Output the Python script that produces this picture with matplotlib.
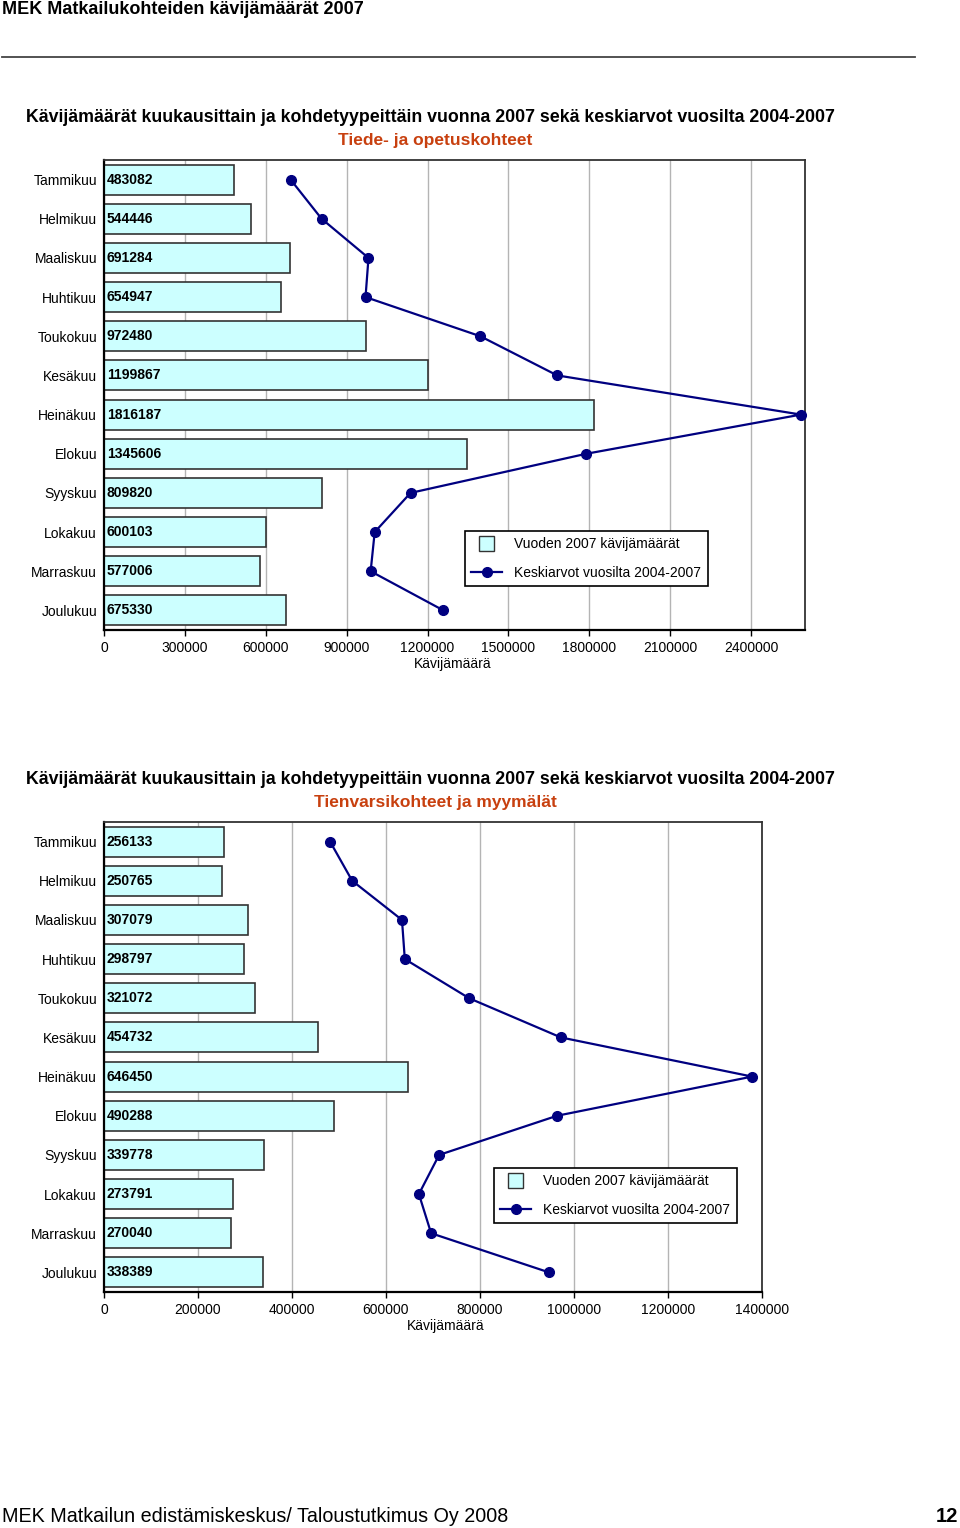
import numpy as np
import matplotlib.pyplot as plt
from matplotlib.lines import Line2D
from matplotlib.patches import Patch, Rectangle
from matplotlib.legend_handler import HandlerPatch

plt.rcParams['font.family'] = ['Liberation Sans', 'DejaVu Sans']

months = ['Tammikuu', 'Helmikuu', 'Maaliskuu', 'Huhtikuu', 'Toukokuu', 'Kesäkuu',
          'Heinäkuu', 'Elokuu', 'Syyskuu', 'Lokakuu', 'Marraskuu', 'Joulukuu']

# Tiede- ja opetuskohteet
tiede_2007 = [483082, 544446, 691284, 654947, 972480, 1199867,
              1816187, 1345606, 809820, 600103, 577006, 675330]
tiede_avg = [692000, 807000, 981000, 970000, 1396000, 1681000,
             2585000, 1789000, 1137000, 1004000, 989000, 1259000]

# Tienvarsikohteet ja myymälät
tienvarsi_2007 = [256133, 250765, 307079, 298797, 321072, 454732,
                  646450, 490288, 339778, 273791, 270040, 338389]
tienvarsi_avg = [481000, 528000, 634000, 640000, 777000, 972000,
                 1379000, 964000, 713000, 670000, 696000, 947000]

BAR_COLOR = '#ccffff'
LINE_COLOR = '#000080'
SUB_COLOR = '#c8400f'

W, H = 960, 1528
fig = plt.figure(figsize=(W / 100, H / 100), dpi=100)


def px_axes(left, top, right, bottom):
    return fig.add_axes([left / W, 1 - bottom / H, (right - left) / W, (bottom - top) / H])


def square_patch(legend, orig_handle, xdescent, ydescent, width, height, fontsize):
    side = 1.5 * height
    return Rectangle((width / 2 - side / 2 - xdescent, height / 2 - side / 2 - ydescent), side, side)


def draw_chart(ax, bars, avg, xmax, step, leg_xy, label_x):
    y = np.arange(len(months))
    ax.barh(y, bars, height=0.77, color=BAR_COLOR, edgecolor='#333333', linewidth=1.2, zorder=2)
    ax.plot(avg, y, color=LINE_COLOR, lw=1.6, marker='o', ms=7, zorder=3, clip_on=False)
    for yi, v in zip(y, bars):
        ax.text(xmax * 0.004, yi, str(v), va='center', ha='left', fontsize=10,
                fontweight='bold', zorder=4)
    ax.set_ylim(len(months) - 0.5, -0.5)
    ax.set_xlim(0, xmax)
    ax.set_xticks(np.arange(0, xmax, step))
    ax.set_xticklabels([str(int(t)) for t in np.arange(0, xmax, step)], fontsize=10)
    ax.set_yticks(y)
    ax.set_yticklabels(months, fontsize=10)
    ax.tick_params(axis='y', length=0, pad=5)
    ax.tick_params(axis='x', length=4, width=1, pad=4)
    ax.xaxis.grid(True, color='#b4b4b4', lw=1, zorder=0)
    ax.set_axisbelow(True)
    for s in ['left', 'bottom']:
        ax.spines[s].set_linewidth(1.6)
        ax.spines[s].set_color('black')
    for s in ['top', 'right']:
        ax.spines[s].set_linewidth(1.3)
        ax.spines[s].set_color('#333333')
    ax.set_xlabel('Kävijämäärä', fontsize=10, labelpad=2)
    ax.xaxis.set_label_coords(label_x, -0.058)
    bar_handle = Patch(facecolor=BAR_COLOR, edgecolor='#333333', lw=1)
    line_handle = Line2D([], [], color=LINE_COLOR, lw=1.6, marker='o', ms=7)
    leg = ax.legend([bar_handle, line_handle],
                    ['Vuoden 2007 kävijämäärät', 'Keskiarvot vuosilta 2004-2007'],
                    loc='upper left', bbox_to_anchor=leg_xy, borderaxespad=0,
                    fontsize=10, fancybox=False, edgecolor='black', framealpha=1,
                    handlelength=2.2, borderpad=0.45, labelspacing=1.05, handletextpad=0.9,
                    handler_map={Patch: HandlerPatch(patch_func=square_patch)})
    leg.get_frame().set_linewidth(1.2)


# header
fig.text(2 / W, 1 - 9 / H, 'MEK Matkailukohteiden kävijämäärät 2007', fontsize=13,
         fontweight='bold', va='center', ha='left')
fig.add_artist(Line2D([2 / W, 915 / W], [1 - 57 / H, 1 - 57 / H], color='#444444', lw=1.3))

title = 'Kävijämäärät kuukausittain ja kohdetyypeittäin vuonna 2007 sekä keskiarvot vuosilta 2004-2007'

# chart 1
fig.text(430 / W, 1 - 118 / H, title, fontsize=12.8, fontweight='bold', ha='center', va='center')
fig.text(435 / W, 1 - 141 / H, 'Tiede- ja opetuskohteet', fontsize=12.5, fontweight='bold',
         color=SUB_COLOR, ha='center', va='center')
ax1 = px_axes(104, 160, 805, 630)
draw_chart(ax1, tiede_2007, tiede_avg, 2600000, 300000,
           ((465 - 104) / 701, (630 - 531) / 470), (453 - 104) / 701)

# chart 2
fig.text(430 / W, 1 - 780 / H, title, fontsize=12.8, fontweight='bold', ha='center', va='center')
fig.text(435 / W, 1 - 803 / H, 'Tienvarsikohteet ja myymälät', fontsize=12.5, fontweight='bold',
         color=SUB_COLOR, ha='center', va='center')
ax2 = px_axes(104, 822, 762, 1292)
draw_chart(ax2, tienvarsi_2007, tienvarsi_avg, 1400001, 200000,
           ((494 - 104) / 658, (1292 - 1168) / 470), (446 - 104) / 658)

# footer
fig.text(2 / W, 1 - 1516 / H, 'MEK Matkailun edistämiskeskus/ Taloustutkimus Oy 2008',
         fontsize=14.2, va='center', ha='left')
fig.text(958 / W, 1 - 1516 / H, '12', fontsize=14.5, fontweight='bold', va='center', ha='right')

fig.savefig('out.png', dpi=100, facecolor='white')
